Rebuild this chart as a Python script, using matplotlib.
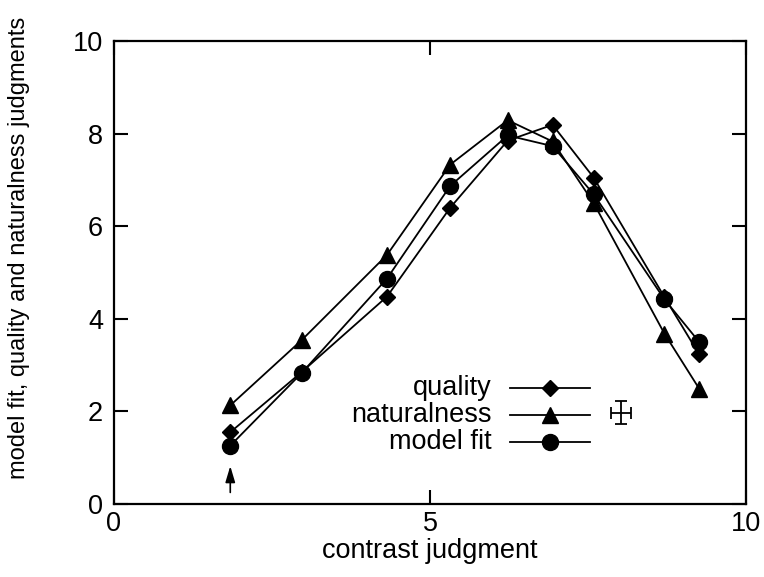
import matplotlib
matplotlib.use("Agg")
import matplotlib.pyplot as plt

# contrast judgment (x) for each stimulus
contrast = [1.84, 2.97, 4.32, 5.32, 6.23, 6.94, 7.59, 8.71, 9.26]
# mean judgments per stimulus
quality = [1.55, 2.85, 4.48, 6.40, 7.85, 8.19, 7.05, 4.47, 3.23]
naturalness = [2.13, 3.54, 5.38, 7.33, 8.29, 7.83, 6.50, 3.68, 2.49]
model_fit = [1.26, 2.83, 4.87, 6.87, 7.96, 7.73, 6.69, 4.42, 3.50]

legend_labels = ["quality", "naturalness", "model fit"]
x_ticks = [0, 5, 10]
y_ticks = [0, 2, 4, 6, 8, 10]

# typical error of a judgment
err_x, err_y = 8.02, 1.97
err_dx, err_dy = 0.16, 0.25

plt.rcParams["font.family"] = ["Liberation Sans", "DejaVu Sans"]
plt.rcParams["font.size"] = 19.5

fig = plt.figure(figsize=(7.64, 5.77), dpi=100)
ax = fig.add_axes([0.1492, 0.1265, 0.8272, 0.8024])

line_kw = dict(color="black", lw=1.3, markeredgecolor="black", markerfacecolor="black")
ax.plot(contrast, quality, marker="D", ms=8.5, **line_kw)
ax.plot(contrast, naturalness, marker="^", ms=11, **line_kw)
ax.plot(contrast, model_fit, marker="o", ms=11.5, **line_kw)

# legend drawn inside the plot with right-aligned labels
markers = [("D", 8.5), ("^", 11), ("o", 11.5)]
rows_y = [2.51, 1.92, 1.34]
for label, (m, ms), ry in zip(legend_labels, markers, rows_y):
    ax.text(5.98, ry, label, ha="right", va="center")
    ax.plot([6.27, 7.53], [ry, ry], color="black", lw=1.3)
    ax.plot([6.90], [ry], marker=m, ms=ms, color="black")

# error bar symbol
ax.errorbar([err_x], [err_y], xerr=[err_dx], yerr=[err_dy], fmt="none",
            ecolor="black", elinewidth=1.3, capsize=4.5, capthick=1.3)

# arrow marking the first stimulus
ax.annotate("", xy=(contrast[0], 0.82), xytext=(contrast[0], 0.25),
            arrowprops=dict(arrowstyle="-|>,head_length=0.5,head_width=0.15",
                            color="black", lw=1.2, shrinkA=0, shrinkB=0))

ax.set_xlim(0, 10)
ax.set_ylim(0, 10)
ax.set_xticks(x_ticks)
ax.set_yticks(y_ticks)
ax.set_xticklabels([str(t) for t in x_ticks])
ax.set_yticklabels([str(t) for t in y_ticks])
ax.tick_params(direction="in", length=10, width=1.5, top=True, right=True,
               pad=8)
ax.tick_params(axis="x", labeltop=False, pad=5)
for s in ax.spines.values():
    s.set_linewidth(1.6)

ax.set_xlabel("contrast judgment", labelpad=1)
ax.set_ylabel("model fit, quality and naturalness judgments", fontsize=17)
ax.yaxis.set_label_coords(-0.133, 0.553)

fig.savefig("out.png", dpi=100)
